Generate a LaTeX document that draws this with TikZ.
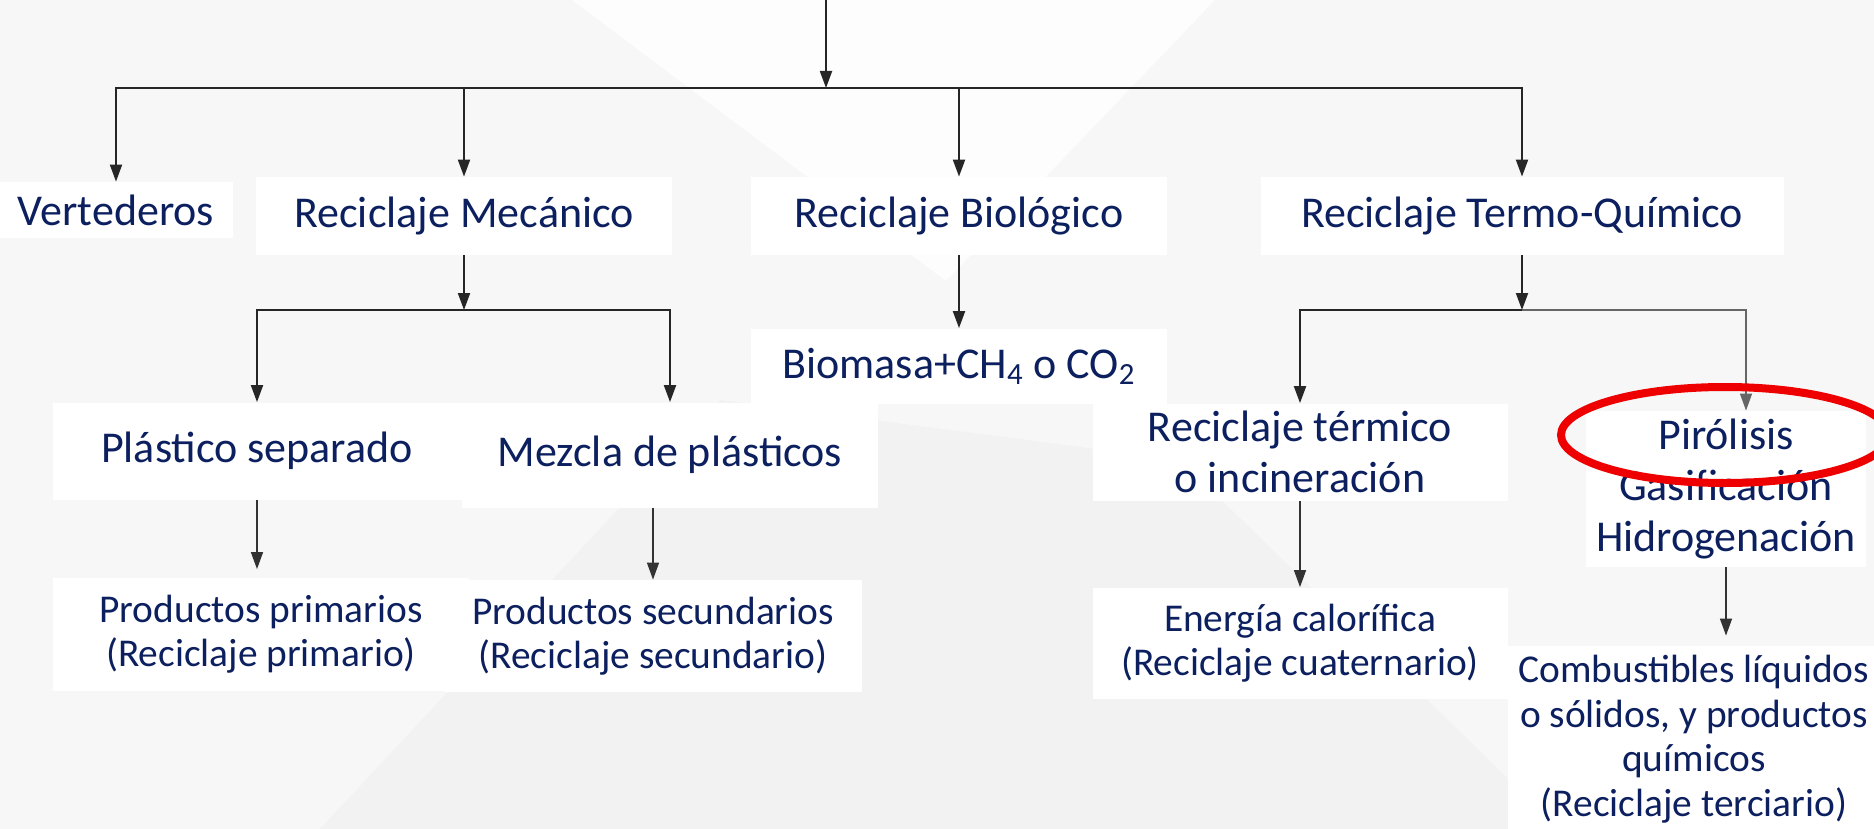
\documentclass[tikz,border=0pt]{standalone}
\usepackage{fontspec}
\setmainfont{Carlito}
\usetikzlibrary{arrows.meta}

\definecolor{navy}{HTML}{0C1F5E}
\definecolor{bggray}{HTML}{F7F7F7}
\definecolor{bgdark}{HTML}{F2F2F2}
\definecolor{bglight}{HTML}{FDFDFD}
\definecolor{markred}{RGB}{238,0,0}

\tikzset{
  box/.style={fill=white, inner sep=0pt, align=center, text=navy},
  big/.style={font=\fontsize{22}{25.5}\selectfont},
  small/.style={font=\fontsize{19.7}{22.3}\selectfont},
  arrow/.style={-{Triangle[length=8.5pt,width=6pt]}, line width=1pt, black!85},
  thinarrow/.style={-{Triangle[length=8.5pt,width=6pt]}, line width=0.7pt, black!80},
}

\begin{document}
\begin{tikzpicture}[x=0.5pt, y=-0.5pt]

% Background
\useasboundingbox (0,0) rectangle (1874,829);
\fill[bggray] (0,0) rectangle (1874,829);
\fill[bglight] (572,0) -- (1215,0) -- (946,281) -- cycle;
\fill[bgdark] (320,829) -- (720,400) -- (1180,460) -- (1560,829) -- cycle;

% First level
\node[box, big, minimum width=116.5pt, minimum height=28pt] (vert) at (116,210) {Vertederos};
\node[box, big, minimum width=208pt, minimum height=39pt] (mec) at (464,216) {Reciclaje Mecánico};
\node[box, big, minimum width=208pt, minimum height=39pt] (bio) at (959,216) {Reciclaje Biológico};
\node[box, big, minimum width=261.5pt, minimum height=39pt] (termo) at (1522,216) {Reciclaje Termo-Químico};

% Second level
\node[box, big, minimum width=208pt, minimum height=37.5pt] (biom) at (959,366) {Biomasa+CH\textsubscript{4} o CO\textsubscript{2}};
\node[box, big, minimum width=204.5pt, minimum height=48.5pt] (plas) at (257,451) {Plástico separado};
\node[box, big, minimum width=208pt, minimum height=52.5pt] (mez) at (670,455) {Mezcla de plásticos};
\node[box, big, minimum width=207.5pt, minimum height=48.5pt] (term) at (1300,452) {Reciclaje térmico\\o incineración};
\node[box, big, minimum width=140pt, minimum height=78pt] (piro) at (1726,489) {Pirólisis\\Gasificación\\Hidrogenación};

% Third level
\node[box, small, minimum width=208pt, minimum height=56.5pt] (prim) at (261,634) {Productos primarios\\(Reciclaje primario)};
\node[box, small, minimum width=208.5pt, minimum height=56pt] (sec) at (653,636) {Productos secundarios\\(Reciclaje secundario)};
\node[box, small, minimum width=207.5pt, minimum height=55.5pt] (ener) at (1300,643) {Energía calorífica\\(Reciclaje cuaternario)};
\node[box, small, minimum width=186pt, minimum height=93pt] (comb) at (1694,739) {Combustibles líquidos\\o sólidos, y productos\\químicos\\(Reciclaje terciario)};

% Main branching
\coordinate (src) at (826,0);
\coordinate (hub) at (826,88);
\draw[arrow] (src) -- (hub);
\foreach \n in {vert,mec,bio,termo} {
    \draw[arrow] (hub) -| (\n.north);
}

% Mechanical branch
\coordinate (mhub) at (mec.south |- 0,310);
\draw[arrow] (mec) -- (mhub);
\foreach \n in {plas,mez} {
    \draw[arrow] (mhub) -| (\n.north);
}
\draw[thinarrow, shorten >=4pt] (plas.south) -- (plas.south |- prim.north);
\draw[thinarrow] (sec.north |- mez.south) -- (sec.north);

% Biological branch
\draw[arrow] (bio) -- (biom);

% Thermo-chemical branch
\coordinate (thub) at (termo.south |- 0,310);
\draw[arrow] (termo) -- (thub);
\draw[arrow] (thub) -| (term.north);
\draw[thinarrow, black!60] (thub) -| ([xshift=10pt]piro.north);
\draw[thinarrow] (term) -- (ener);
\draw[thinarrow, shorten >=5pt] (piro.south) -- (piro.south |- comb.north);

% Highlight
\draw[markred, line width=4pt] (1725,435) ellipse [x radius=82pt, y radius=24pt];

\end{tikzpicture}
\end{document}
